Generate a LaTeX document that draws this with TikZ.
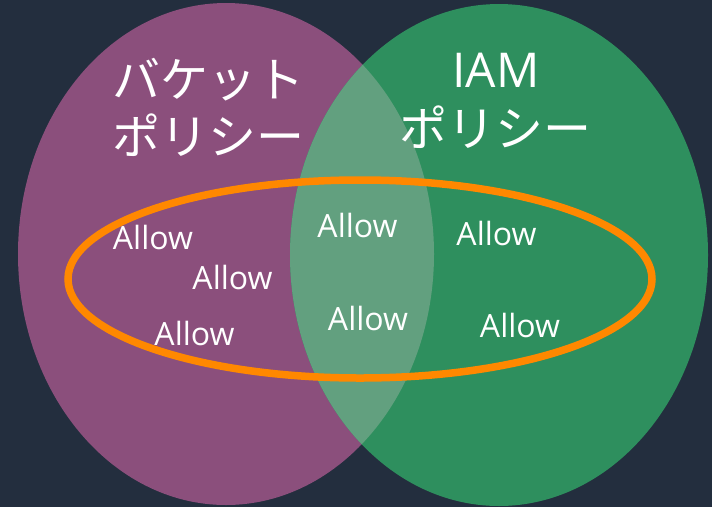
\documentclass[tikz,border=0pt]{standalone}
\usepackage{fontspec}
\setmainfont{Open Sans}
\newfontfamily\jpfont{Noto Sans CJK JP}
\definecolor{bg}{HTML}{232E3E}
\definecolor{bucket}{HTML}{8B4F7C}
\definecolor{iam}{HTML}{2E8F5E}
\definecolor{both}{HTML}{62A07F}
\definecolor{scope}{HTML}{FF8800}
\tikzset{
  title/.style={text=white, inner sep=0pt, anchor=base, font=\jpfont\fontsize{48}{48}\selectfont},
  latintitle/.style={text=white, inner sep=0pt, anchor=base, font=\fontsize{48}{48}\selectfont},
  allow/.style={text=white, inner sep=0pt, anchor=base, font=\fontsize{32}{32}\selectfont},
}
\begin{document}
\begin{tikzpicture}[x=1pt,y=-1pt]
  % canvas
  \fill[bg] (0,0) rectangle (712,507);
  \useasboundingbox (0,0) rectangle (712,507);
  % the two policy sets
  \fill[bucket] (226,254) ellipse [x radius=208pt, y radius=251pt];
  \fill[iam] (499,255) ellipse [x radius=209pt, y radius=251pt];
  % overlap of both policies
  \begin{scope}
    \clip (226,254) ellipse [x radius=208pt, y radius=251pt];
    \fill[both] (499,255) ellipse [x radius=209pt, y radius=251pt];
  \end{scope}
  % requested actions
  \draw[scope, line width=7.5pt] (360,279) ellipse [x radius=292pt, y radius=99pt];
  % titles
  \node[title] (b1) at (208,97) {バケット};
  \node[title] (b2) at (208,154) {ポリシー};
  \node[latintitle] (i1) at (496,87) {IAM};
  \node[title] (i2) at (495.5,146) {ポリシー};
  % statements
  \node[allow] (a1) at (153,249) {Allow};
  \node[allow] (a2) at (232.5,289) {Allow};
  \node[allow] (a3) at (194.5,345) {Allow};
  \node[allow] (a4) at (357.5,237) {Allow};
  \node[allow] (a5) at (368,330) {Allow};
  \node[allow] (a6) at (496.5,245) {Allow};
  \node[allow] (a7) at (520,337) {Allow};
\end{tikzpicture}
\end{document}
